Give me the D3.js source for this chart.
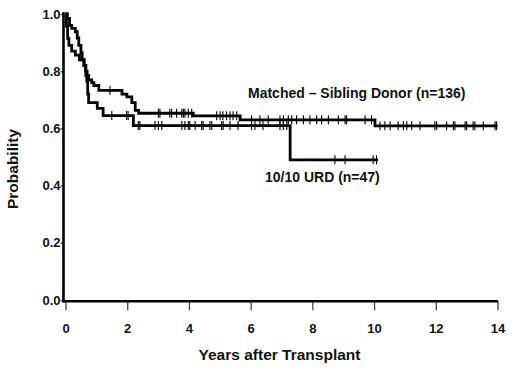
<!DOCTYPE html>
<html>
<head>
<meta charset="utf-8">
<script src="https://cdn.jsdelivr.net/npm/d3@7"></script>
<style>
  html, body { margin: 0; padding: 0; background: #fff; }
  svg { display: block; }
  text { font-family: "Liberation Sans", Arial, sans-serif; font-weight: bold; fill: #111; }
</style>
</head>
<body>
<svg id="chart" width="520" height="380"></svg>
<script>
// ---- data ----
const xTicks = [0, 2, 4, 6, 8, 10, 12, 14];
const yTicks = [0.0, 0.2, 0.4, 0.6, 0.8, 1.0];

// Matched-sibling donor (n=136): step times and survival after each step
const sibTimes = [0, 0.06, 0.13, 0.2, 0.32, 0.38, 0.43, 0.5, 0.54, 0.6, 0.65, 0.7, 0.75, 0.85, 0.92, 1.08, 1.83, 1.99, 2.15, 2.26, 2.37, 4.14, 5.66, 10.03];
const sibSurv  = [1.0, 0.985, 0.96, 0.95, 0.938, 0.916, 0.89, 0.865, 0.84, 0.82, 0.80, 0.785, 0.77, 0.76, 0.75, 0.733, 0.72, 0.71, 0.69, 0.663, 0.653, 0.644, 0.63, 0.609];
const sibEnd = 14.0;
const sibCensor = [1.44, 3.01, 3.06, 3.38, 3.44, 3.60, 3.77, 3.82, 3.87, 3.98, 4.09, 4.90, 5.01, 5.10, 5.22, 5.33, 5.43, 5.55, 6.03, 6.30, 6.57, 6.95, 7.06, 7.22, 7.33, 7.49, 7.71, 7.92, 8.14, 8.30, 8.52, 8.84, 9.06, 9.11, 9.71, 9.92, 10.19, 10.35, 10.52, 10.78, 10.95, 11.06, 11.22, 11.49, 11.97, 12.03, 12.35, 12.57, 12.62, 12.95, 13.00, 13.21, 13.27, 13.54, 13.92, 13.97];

// 10/10 URD (n=47)
const urdTimes = [0, 0.03, 0.07, 0.11, 0.2, 0.32, 0.45, 0.6, 0.66, 0.69, 0.72, 0.75, 1.03, 1.22, 2.2, 7.28];
const urdSurv  = [1.0, 0.957, 0.915, 0.89, 0.87, 0.856, 0.84, 0.82, 0.785, 0.765, 0.72, 0.69, 0.67, 0.645, 0.61, 0.49];
const urdEnd = 10.13;
const urdCensor = [1.5, 1.98, 2.03, 2.36, 2.41, 2.90, 3.01, 3.12, 3.77, 3.87, 3.98, 4.03, 4.20, 4.41, 4.46, 4.68, 4.74, 5.06, 5.11, 5.33, 5.59, 6.03, 6.14, 6.40, 6.95, 7.06, 7.17, 8.73, 9.06, 9.97, 10.08];

const sibLabel = "Matched \u2013 Sibling Donor (n=136)";
const urdLabel = "10/10 URD (n=47)";
const xTitle = "Years after Transplant";
const yTitle = "Probability";

// ---- drawing ----
const svg = d3.select("#chart");
const x = d3.scaleLinear().domain([0, 14]).range([65.5, 497.5]);
const y = d3.scaleLinear().domain([0, 1]).range([300, 14]);

function survAt(times, surv, t) {
  let v = surv[0];
  for (let i = 0; i < times.length; i++) if (times[i] <= t) v = surv[i];
  return v;
}

// axes
const xAxis = d3.axisBottom(x).tickValues(xTicks).tickFormat(d3.format("d")).tickSize(9).tickSizeOuter(0);
const gx = svg.append("g").attr("transform", "translate(0,301.3)").call(xAxis);
gx.select(".domain").remove();
gx.selectAll(".tick line").attr("stroke", "#444").attr("stroke-width", 1.3);
gx.selectAll(".tick text").attr("y", 0).attr("dy", 0).attr("transform", "translate(0,31.5)")
  .style("font-size", "13px").style("font-family", "'Liberation Sans', Arial, sans-serif").style("font-weight", "bold").attr("fill", "#111");

const yAxis = d3.axisLeft(y).tickValues(yTicks).tickFormat(d3.format(".1f")).tickSize(3).tickSizeOuter(0);
const gy = svg.append("g").attr("transform", "translate(63.5,0)").call(yAxis);
gy.select(".domain").remove();
gy.selectAll(".tick line").attr("stroke", "#444").attr("stroke-width", 1.3);
gy.selectAll(".tick text").attr("x", -3)
  .style("font-size", "13px").style("font-family", "'Liberation Sans', Arial, sans-serif").style("font-weight", "bold").attr("fill", "#111");

// axis lines
svg.append("line").attr("x1", 63.5).attr("x2", 63.5).attr("y1", y(1) - 2).attr("y2", 302.5)
  .attr("stroke", "#000").attr("stroke-width", 2.6);
svg.append("line").attr("x1", 62.5).attr("x2", x(14) + 0.5).attr("y1", 301.3).attr("y2", 301.3)
  .attr("stroke", "#000").attr("stroke-width", 2.6);

const line = d3.line().x(d => x(d[0])).y(d => y(d[1])).curve(d3.curveStepAfter);

function drawCurve(times, surv, end, censor) {
  const pts = times.map((t, i) => [t, surv[i]]);
  pts.push([end, surv[surv.length - 1]]);
  svg.append("path").datum(pts).attr("d", line)
    .attr("fill", "none").attr("stroke", "#000").attr("stroke-width", 2.8)
    .attr("stroke-linejoin", "miter");
  svg.append("g").selectAll("line").data(censor).join("line")
    .attr("x1", d => x(d)).attr("x2", d => x(d))
    .attr("y1", d => y(survAt(times, surv, d)) - 4.5)
    .attr("y2", d => y(survAt(times, surv, d)) + 4.5)
    .attr("stroke", "#000").attr("stroke-width", 1.1);
}
drawCurve(sibTimes, sibSurv, sibEnd, sibCensor);
drawCurve(urdTimes, urdSurv, urdEnd, urdCensor);

// labels
svg.append("text").attr("x", 248).attr("y", 98).style("font-size", "14px").text(sibLabel);
svg.append("text").attr("x", 265).attr("y", 182).style("font-size", "14px").text(urdLabel);
svg.append("text").attr("x", 279.5).attr("y", 360).attr("text-anchor", "middle")
  .style("font-size", "15.5px").text(xTitle);
svg.append("text").attr("transform", "translate(18,169) rotate(-90)").attr("text-anchor", "middle")
  .style("font-size", "15.5px").text(yTitle);
</script>
</body>
</html>
